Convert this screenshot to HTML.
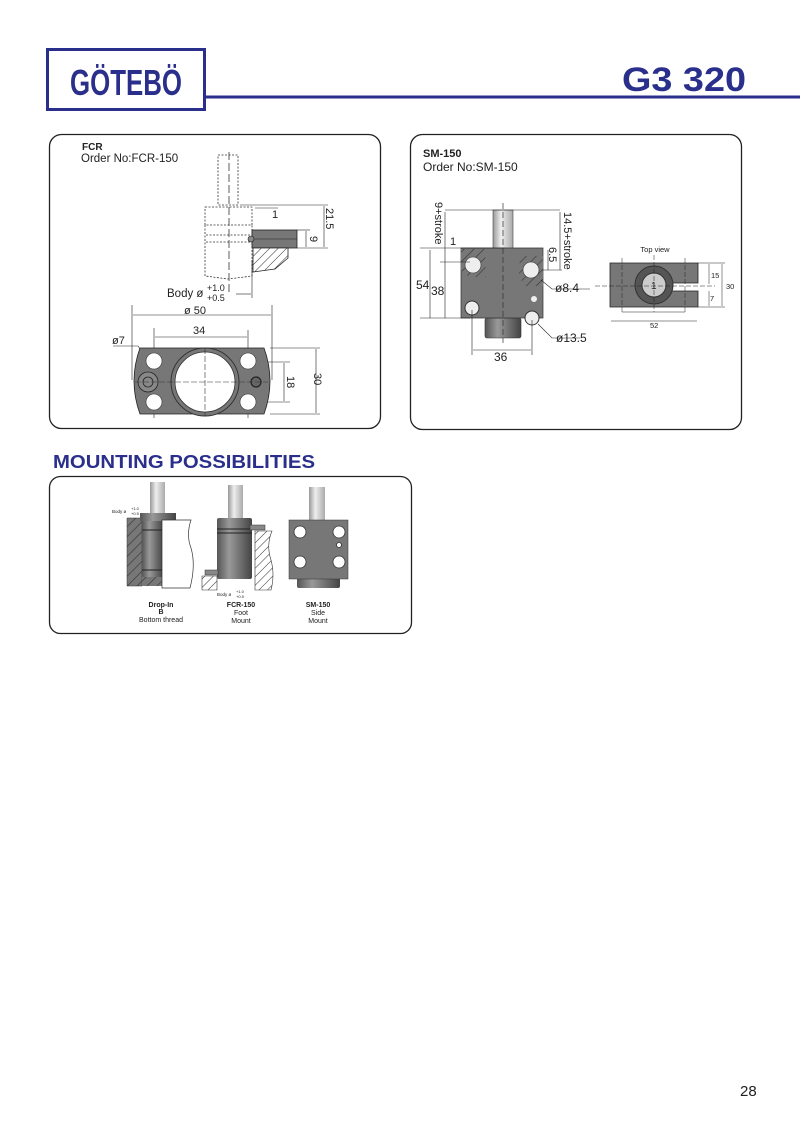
<!DOCTYPE html>
<html><head><meta charset="utf-8"><style>
html,body{margin:0;padding:0;background:#fff;width:800px;height:1128px;overflow:hidden}
svg{display:block}
text{font-family:"Liberation Sans",sans-serif;fill:#222}
</style></head><body>
<svg width="800" height="1128" viewBox="0 0 800 1128" xmlns="http://www.w3.org/2000/svg">
<defs>
<pattern id="h" width="6" height="6" patternUnits="userSpaceOnUse" patternTransform="rotate(45)">
<rect width="6" height="6" fill="#fff"/><line x1="0" y1="0" x2="0" y2="6" stroke="#333" stroke-width="1"/></pattern>
<pattern id="hg" width="7" height="7" patternUnits="userSpaceOnUse" patternTransform="rotate(45)">
<rect width="7" height="7" fill="#777"/><line x1="0" y1="0" x2="0" y2="7" stroke="#333" stroke-width="1.2"/></pattern>
<linearGradient id="rod" x1="0" x2="1"><stop offset="0" stop-color="#999"/><stop offset="0.4" stop-color="#eee"/><stop offset="1" stop-color="#aaa"/></linearGradient>
<linearGradient id="cyl" x1="0" x2="1"><stop offset="0" stop-color="#555"/><stop offset="0.35" stop-color="#999"/><stop offset="1" stop-color="#444"/></linearGradient>
</defs>
<!-- header -->
<rect x="47.5" y="49.5" width="157" height="60" fill="none" stroke="#2b2f8c" stroke-width="3"/>
<text x="126" y="95" text-anchor="middle" font-size="36" font-weight="bold" style="fill:#2b2f8c" textLength="112" lengthAdjust="spacingAndGlyphs">GÖTEBÖ</text>
<rect x="206" y="95.5" width="594" height="3" fill="#2b2f8c"/>
<text x="684" y="91" text-anchor="middle" font-size="34" font-weight="bold" style="fill:#2b2f8c" textLength="124" lengthAdjust="spacingAndGlyphs">G3 320</text>

<!-- FCR box -->
<rect x="49.5" y="134.5" width="331" height="294" rx="12" fill="none" stroke="#222" stroke-width="1.3"/>
<text x="82" y="150" font-size="10" font-weight="bold">FCR</text>
<text x="81" y="162" font-size="11.5">Order No:FCR-150</text>
<g stroke="#333" stroke-width="0.8" fill="none" stroke-dasharray="2,1.5">
<rect x="218" y="155" width="20" height="50"/>
<rect x="205" y="207" width="47" height="18"/>
<path d="M205 225 V276 L228 279 L252 276 V225"/>
<line x1="206" y1="235" x2="252" y2="235"/><line x1="206" y1="242" x2="252" y2="242"/>
</g>
<line x1="229" y1="152" x2="229" y2="292" stroke="#333" stroke-width="0.8" stroke-dasharray="8,3"/>
<rect x="252" y="230" width="45" height="18" fill="#777" stroke="#222" stroke-width="0.8"/>
<line x1="252" y1="239" x2="297" y2="239" stroke="#222" stroke-width="0.6"/>
<circle cx="251" cy="239" r="3" fill="#888" stroke="#222" stroke-width="0.6"/>
<path d="M253 248 H288 V258 L275 269 L253 272 Z" fill="url(#h)" stroke="#222" stroke-width="0.8"/>
<g stroke="#222" stroke-width="0.6" fill="none">
<line x1="240" y1="205" x2="328" y2="205"/><line x1="255" y1="208" x2="278" y2="208"/>
<line x1="297" y1="248" x2="328" y2="248"/><line x1="297" y1="230" x2="310" y2="230"/>
<line x1="324" y1="206" x2="324" y2="247"/><line x1="306" y1="231" x2="306" y2="247"/>
<line x1="252" y1="260" x2="252" y2="298"/><line x1="236" y1="294" x2="251" y2="294"/>
<line x1="132" y1="305" x2="132" y2="380"/><line x1="272" y1="305" x2="272" y2="380"/>
<line x1="133" y1="315" x2="271" y2="315"/>
<line x1="154" y1="328" x2="154" y2="418"/><line x1="248" y1="330" x2="248" y2="418"/>
<line x1="155" y1="337" x2="247" y2="337"/>
<polyline points="113,346 138,346 144,355"/>
<line x1="270" y1="348" x2="320" y2="348"/><line x1="270" y1="414" x2="320" y2="414"/>
<line x1="316" y1="349" x2="316" y2="413"/>
<line x1="255" y1="362" x2="290" y2="362"/><line x1="255" y1="402" x2="290" y2="402"/>
<line x1="284" y1="363" x2="284" y2="401"/>
</g>
<text x="272" y="218" font-size="11">1</text>
<text x="0" y="0" font-size="11" transform="translate(326,208) rotate(90)">21.5</text>
<text x="0" y="0" font-size="11" transform="translate(310,236) rotate(90)">9</text>
<text x="167" y="297" font-size="11.5">Body ø</text>
<text x="207" y="291" font-size="9">+1.0</text><text x="207" y="301" font-size="9">+0.5</text>
<text x="184" y="314" font-size="11">ø 50</text>
<text x="193" y="334" font-size="11">34</text>
<text x="112" y="344" font-size="11">ø7</text>
<text x="0" y="0" font-size="11" transform="translate(287,376) rotate(90)">18</text>
<text x="0" y="0" font-size="11" transform="translate(314,373) rotate(90)">30</text>
<path d="M140 348 H264 Q276 381 264 414 H140 Q128 381 140 348 Z" fill="#777" stroke="#222" stroke-width="0.8"/>
<circle cx="205" cy="382" r="34" fill="#777" stroke="#333" stroke-width="1"/>
<circle cx="205" cy="382" r="30" fill="#fff" stroke="#333" stroke-width="0.8"/>
<g fill="#fff" stroke="#333" stroke-width="0.6">
<circle cx="154" cy="361" r="8"/><circle cx="154" cy="402" r="8"/>
<circle cx="248" cy="361" r="8"/><circle cx="248" cy="402" r="8"/>
</g>
<circle cx="148" cy="382" r="10" fill="#888" stroke="#222" stroke-width="0.8"/>
<circle cx="148" cy="382" r="5" fill="#888" stroke="#222" stroke-width="0.8"/>
<circle cx="256" cy="382" r="5" fill="#666" stroke="#222" stroke-width="1.2"/>
<g stroke="#333" stroke-width="0.6" stroke-dasharray="6,2">
<line x1="135" y1="382" x2="268" y2="382"/><line x1="205" y1="348" x2="205" y2="416"/>
</g>

<!-- SM-150 box -->
<rect x="410.5" y="134.5" width="331" height="295" rx="12" fill="none" stroke="#222" stroke-width="1.3"/>
<text x="423" y="157" font-size="11" font-weight="bold">SM-150</text>
<text x="423" y="171" font-size="12">Order No:SM-150</text>
<rect x="493" y="210" width="20" height="40" fill="url(#rod)" stroke="#444" stroke-width="0.6"/>
<rect x="485" y="318" width="36" height="20" rx="2" fill="url(#cyl)" stroke="#333" stroke-width="0.6"/>
<path d="M461 248 H543 V318 H461 Z" fill="#777" stroke="#333" stroke-width="0.7"/>
<path d="M461 249 H485 L486 277 L469 277 L461 270 Z" fill="url(#hg)"/>
<path d="M520 256 H543 V286 H525 L519 276 Z" fill="url(#hg)"/>
<circle cx="473" cy="265" r="8" fill="#eee" stroke="#333" stroke-width="0.6"/>
<circle cx="531" cy="270" r="8" fill="#eee" stroke="#333" stroke-width="0.6"/>
<circle cx="472" cy="308" r="7" fill="#eee" stroke="#333" stroke-width="1"/>
<circle cx="532" cy="318" r="7" fill="#eee" stroke="#333" stroke-width="1"/>
<circle cx="534" cy="299" r="3" fill="#eee"/>
<line x1="503" y1="203" x2="503" y2="343" stroke="#333" stroke-width="0.7" stroke-dasharray="6,3"/>
<g stroke="#222" stroke-width="0.6" fill="none">
<line x1="445" y1="210" x2="560" y2="210"/>
<line x1="445" y1="212" x2="445" y2="318"/><line x1="560" y1="212" x2="560" y2="270"/>
<line x1="420" y1="248" x2="505" y2="248"/>
<line x1="430" y1="250" x2="430" y2="318"/>
<line x1="548" y1="250" x2="548" y2="270"/>
<line x1="542" y1="270" x2="562" y2="270"/>
<line x1="420" y1="318" x2="470" y2="318"/>
<line x1="440" y1="262" x2="470" y2="262"/>
<line x1="472" y1="310" x2="472" y2="355"/><line x1="532" y1="320" x2="532" y2="355"/>
<line x1="473" y1="350" x2="531" y2="350"/>
<polyline points="541,280 552,289 590,289"/>
<polyline points="538,324 552,338 580,338"/>
</g>
<text x="0" y="0" font-size="11" transform="translate(435,202) rotate(90)">9+stroke</text>
<text x="0" y="0" font-size="11" transform="translate(564,212) rotate(90)">14.5+stroke</text>
<text x="0" y="0" font-size="11" transform="translate(549,247) rotate(90)">6.5</text>
<text x="450" y="245" font-size="11">1</text>
<text x="416" y="289" font-size="12">54</text>
<text x="431" y="295" font-size="12">38</text>
<text x="555" y="292" font-size="12">ø8.4</text>
<text x="556" y="342" font-size="12">ø13.5</text>
<text x="494" y="361" font-size="12">36</text>
<!-- top view -->
<text x="655" y="252" text-anchor="middle" font-size="7.5">Top view</text>
<path d="M610 263 H698 V283 H672 V291 H698 V307 H610 Z" fill="#777" stroke="#222" stroke-width="0.8"/>
<circle cx="654" cy="285" r="19" fill="#555" stroke="#333"/>
<circle cx="654" cy="285" r="12" fill="#ccc" stroke="#333"/>
<text x="651" y="289" font-size="10">1</text>
<g stroke="#222" stroke-width="0.5" fill="none" stroke-dasharray="5,2">
<line x1="595" y1="286" x2="715" y2="286"/><line x1="654" y1="255" x2="654" y2="312"/>
<line x1="622" y1="258" x2="622" y2="312"/><line x1="685" y1="258" x2="685" y2="312"/>
</g>
<g stroke="#222" stroke-width="0.5"><line x1="698" y1="263" x2="725" y2="263"/><line x1="698" y1="307" x2="725" y2="307"/>
<line x1="709" y1="264" x2="709" y2="284"/><line x1="709" y1="291" x2="709" y2="306"/><line x1="722" y1="264" x2="722" y2="306"/>
<line x1="611" y1="321" x2="697" y2="321"/><line x1="622" y1="312" x2="685" y2="312"/></g>
<text x="711" y="278" font-size="7.5">15</text>
<text x="726" y="289" font-size="7.5">30</text>
<text x="710" y="301" font-size="7.5">7</text>
<text x="650" y="328" font-size="7.5">52</text>

<!-- mounting -->
<text x="53" y="468" font-size="18" font-weight="bold" style="fill:#2b2f8c" textLength="262" lengthAdjust="spacingAndGlyphs">MOUNTING POSSIBILITIES</text>
<rect x="49.5" y="476.5" width="362" height="157" rx="11" fill="none" stroke="#222" stroke-width="1.3"/>
<!-- drop in -->
<path d="M127 518 H142 V586 H127 Z" fill="url(#hg)" stroke="#333" stroke-width="0.5"/>
<path d="M142 576 H162 V586 H142 Z" fill="url(#hg)"/>
<rect x="150" y="482" width="15" height="32" fill="url(#rod)"/>
<rect x="140" y="513" width="36" height="8" fill="url(#cyl)"/>
<rect x="142" y="521" width="21" height="56" fill="url(#cyl)"/>
<line x1="142" y1="530" x2="163" y2="530" stroke="#222"/><line x1="142" y1="570" x2="163" y2="570" stroke="#222"/>
<path d="M162 520 H191 Q186 535 191 548 Q196 565 190 588 H162 Z" fill="#fff" stroke="#333" stroke-width="0.7"/>
<text x="112" y="513" font-size="4.5">Body ø</text><text x="131" y="510" font-size="4">+1.0</text><text x="131" y="515" font-size="4">+0.5</text>
<!-- FCR -->
<rect x="228" y="485" width="15" height="34" fill="url(#rod)"/>
<rect x="217" y="518" width="35" height="61" rx="2" fill="url(#cyl)"/>
<line x1="217" y1="529" x2="252" y2="529" stroke="#222"/><line x1="217" y1="533" x2="252" y2="533" stroke="#222"/>
<rect x="250" y="525" width="15" height="5" fill="#888" stroke="#333" stroke-width="0.5"/>
<path d="M255 531 H272 Q266 545 271 560 Q275 575 271 590 H255 Z" fill="url(#h)" stroke="#333" stroke-width="0.6"/>
<rect x="205" y="570" width="13" height="5" fill="#888" stroke="#333" stroke-width="0.5"/>
<path d="M202 576 H217 V590 H202 Z" fill="url(#h)" stroke="#333" stroke-width="0.6"/>
<text x="217" y="596" font-size="4.5">Body ø</text><text x="236" y="593" font-size="4">+1.0</text><text x="236" y="598" font-size="4">+0.5</text>
<!-- SM -->
<rect x="309" y="487" width="16" height="34" fill="url(#rod)"/>
<rect x="297" y="578" width="43" height="10" rx="2" fill="url(#cyl)"/>
<rect x="289" y="520" width="59" height="59" fill="#777" stroke="#333" stroke-width="0.5"/>
<g fill="#fff" stroke="#333" stroke-width="0.8"><circle cx="300" cy="532" r="6"/><circle cx="339" cy="532" r="6"/><circle cx="300" cy="562" r="6"/><circle cx="339" cy="562" r="6"/><circle cx="339" cy="545" r="2.5"/></g>
<g font-size="7" text-anchor="middle">
<text x="161" y="607" font-weight="bold">Drop-In</text><text x="161" y="614" font-weight="bold">B</text><text x="161" y="622">Bottom thread</text>
<text x="241" y="607" font-weight="bold">FCR-150</text><text x="241" y="615">Foot</text><text x="241" y="623">Mount</text>
<text x="318" y="607" font-weight="bold">SM-150</text><text x="318" y="615">Side</text><text x="318" y="623">Mount</text>
</g>
<text x="740" y="1096" font-size="15">28</text>
</svg>
</body></html>
